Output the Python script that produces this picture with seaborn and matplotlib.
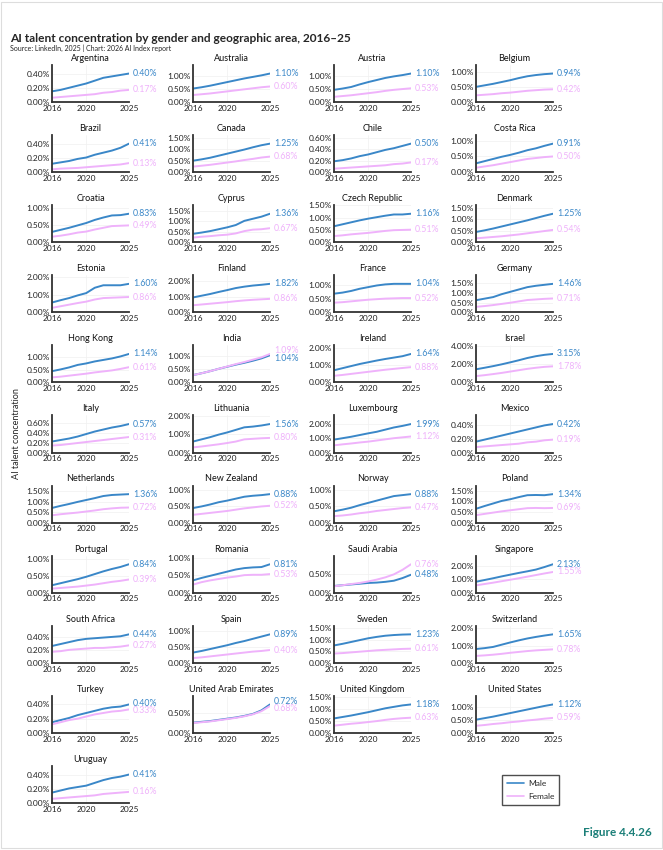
import numpy as np
import pandas as pd
import matplotlib.pyplot as plt
import seaborn as sns
from matplotlib.lines import Line2D
from matplotlib.patches import Rectangle

# AI talent concentration (%) by gender, 2016-2025
years = list(range(2016, 2026))

countries = ["Argentina", "Australia", "Austria", "Belgium",
             "Brazil", "Canada", "Chile", "Costa Rica",
             "Croatia", "Cyprus", "Czech Republic", "Denmark",
             "Estonia", "Finland", "France", "Germany",
             "Hong Kong", "India", "Ireland", "Israel",
             "Italy", "Lithuania", "Luxembourg", "Mexico",
             "Netherlands", "New Zealand", "Norway", "Poland",
             "Portugal", "Romania", "Saudi Arabia", "Singapore",
             "South Africa", "Spain", "Sweden", "Switzerland",
             "Turkey", "United Arab Emirates", "United Kingdom", "United States",
             "Uruguay"]

male = [
    [0.15, 0.17, 0.20, 0.23, 0.26, 0.30, 0.34, 0.36, 0.38, 0.40],
    [0.52, 0.57, 0.63, 0.70, 0.77, 0.84, 0.91, 0.97, 1.03, 1.10],
    [0.47, 0.52, 0.58, 0.68, 0.77, 0.85, 0.93, 0.99, 1.04, 1.10],
    [0.50, 0.55, 0.60, 0.66, 0.72, 0.79, 0.85, 0.89, 0.92, 0.94],
    [0.12, 0.14, 0.16, 0.19, 0.21, 0.25, 0.28, 0.31, 0.35, 0.41],
    [0.50, 0.56, 0.63, 0.72, 0.81, 0.90, 0.99, 1.09, 1.18, 1.25],
    [0.19, 0.21, 0.24, 0.28, 0.31, 0.35, 0.39, 0.42, 0.46, 0.50],
    [0.28, 0.35, 0.42, 0.49, 0.55, 0.62, 0.70, 0.76, 0.84, 0.91],
    [0.30, 0.36, 0.42, 0.49, 0.56, 0.65, 0.72, 0.78, 0.79, 0.83],
    [0.40, 0.46, 0.53, 0.62, 0.71, 0.82, 1.02, 1.12, 1.22, 1.36],
    [0.65, 0.73, 0.81, 0.89, 0.96, 1.02, 1.08, 1.13, 1.13, 1.16],
    [0.45, 0.52, 0.60, 0.69, 0.78, 0.87, 0.96, 1.06, 1.16, 1.25],
    [0.55, 0.68, 0.80, 0.95, 1.08, 1.38, 1.52, 1.52, 1.52, 1.60],
    [0.95, 1.06, 1.17, 1.30, 1.42, 1.55, 1.64, 1.71, 1.76, 1.82],
    [0.68, 0.72, 0.78, 0.86, 0.92, 0.98, 1.02, 1.04, 1.04, 1.04],
    [0.62, 0.70, 0.78, 0.93, 1.05, 1.17, 1.29, 1.36, 1.41, 1.46],
    [0.45, 0.52, 0.60, 0.70, 0.76, 0.84, 0.90, 0.96, 1.04, 1.14],
    [0.28, 0.35, 0.43, 0.52, 0.60, 0.68, 0.75, 0.83, 0.92, 1.04],
    [0.70, 0.82, 0.94, 1.06, 1.16, 1.26, 1.35, 1.43, 1.51, 1.64],
    [1.45, 1.62, 1.80, 2.00, 2.22, 2.45, 2.70, 2.90, 3.05, 3.15],
    [0.22, 0.25, 0.28, 0.32, 0.37, 0.42, 0.46, 0.50, 0.53, 0.57],
    [0.60, 0.72, 0.84, 0.98, 1.10, 1.24, 1.38, 1.42, 1.48, 1.56],
    [0.90, 1.00, 1.10, 1.22, 1.34, 1.45, 1.60, 1.75, 1.86, 1.99],
    [0.16, 0.19, 0.22, 0.25, 0.28, 0.31, 0.34, 0.37, 0.40, 0.42],
    [0.70, 0.80, 0.89, 0.99, 1.08, 1.17, 1.27, 1.32, 1.34, 1.36],
    [0.45, 0.50, 0.56, 0.63, 0.68, 0.74, 0.80, 0.83, 0.85, 0.88],
    [0.35, 0.40, 0.46, 0.54, 0.61, 0.68, 0.75, 0.82, 0.85, 0.88],
    [0.65, 0.78, 0.90, 1.02, 1.10, 1.20, 1.29, 1.30, 1.29, 1.34],
    [0.22, 0.28, 0.34, 0.40, 0.47, 0.55, 0.63, 0.70, 0.76, 0.84],
    [0.35, 0.42, 0.48, 0.54, 0.60, 0.66, 0.70, 0.72, 0.73, 0.81],
    [0.18, 0.20, 0.22, 0.24, 0.26, 0.27, 0.29, 0.32, 0.39, 0.48],
    [0.82, 0.95, 1.08, 1.22, 1.35, 1.48, 1.60, 1.73, 1.92, 2.13],
    [0.26, 0.29, 0.32, 0.35, 0.37, 0.38, 0.39, 0.40, 0.41, 0.44],
    [0.32, 0.37, 0.43, 0.49, 0.55, 0.62, 0.68, 0.75, 0.82, 0.89],
    [0.75, 0.82, 0.90, 0.98, 1.06, 1.12, 1.17, 1.20, 1.22, 1.23],
    [0.80, 0.85, 0.92, 1.05, 1.18, 1.30, 1.41, 1.50, 1.58, 1.65],
    [0.15, 0.18, 0.21, 0.25, 0.28, 0.31, 0.34, 0.36, 0.37, 0.40],
    [0.26, 0.28, 0.30, 0.33, 0.36, 0.39, 0.43, 0.48, 0.57, 0.72],
    [0.60, 0.66, 0.72, 0.79, 0.86, 0.94, 1.02, 1.08, 1.14, 1.18],
    [0.52, 0.58, 0.64, 0.71, 0.78, 0.85, 0.92, 0.99, 1.06, 1.12],
    [0.15, 0.18, 0.21, 0.23, 0.25, 0.29, 0.33, 0.36, 0.38, 0.41],
]

female = [
    [0.06, 0.07, 0.08, 0.09, 0.10, 0.11, 0.13, 0.14, 0.16, 0.17],
    [0.27, 0.30, 0.33, 0.37, 0.41, 0.45, 0.49, 0.53, 0.57, 0.60],
    [0.20, 0.23, 0.26, 0.30, 0.34, 0.38, 0.43, 0.47, 0.50, 0.53],
    [0.22, 0.24, 0.26, 0.29, 0.31, 0.34, 0.37, 0.39, 0.41, 0.42],
    [0.04, 0.05, 0.055, 0.06, 0.07, 0.08, 0.09, 0.10, 0.11, 0.13],
    [0.24, 0.28, 0.32, 0.37, 0.42, 0.47, 0.53, 0.58, 0.64, 0.68],
    [0.06, 0.07, 0.08, 0.09, 0.10, 0.11, 0.12, 0.14, 0.15, 0.17],
    [0.14, 0.18, 0.22, 0.27, 0.32, 0.37, 0.42, 0.45, 0.48, 0.50],
    [0.16, 0.19, 0.23, 0.28, 0.31, 0.37, 0.42, 0.47, 0.48, 0.49],
    [0.22, 0.26, 0.29, 0.33, 0.36, 0.42, 0.53, 0.60, 0.62, 0.67],
    [0.25, 0.28, 0.32, 0.35, 0.38, 0.42, 0.46, 0.49, 0.50, 0.51],
    [0.17, 0.20, 0.23, 0.26, 0.30, 0.34, 0.39, 0.44, 0.49, 0.54],
    [0.25, 0.34, 0.43, 0.52, 0.60, 0.72, 0.80, 0.82, 0.84, 0.86],
    [0.45, 0.50, 0.55, 0.60, 0.65, 0.71, 0.76, 0.80, 0.83, 0.86],
    [0.35, 0.37, 0.40, 0.43, 0.46, 0.48, 0.50, 0.51, 0.52, 0.52],
    [0.28, 0.32, 0.37, 0.43, 0.49, 0.56, 0.63, 0.66, 0.69, 0.71],
    [0.20, 0.23, 0.27, 0.31, 0.35, 0.40, 0.44, 0.48, 0.54, 0.61],
    [0.28, 0.35, 0.43, 0.52, 0.61, 0.70, 0.78, 0.87, 0.96, 1.09],
    [0.38, 0.43, 0.49, 0.55, 0.61, 0.67, 0.73, 0.78, 0.83, 0.88],
    [0.70, 0.80, 0.92, 1.05, 1.20, 1.35, 1.50, 1.62, 1.72, 1.78],
    [0.14, 0.15, 0.17, 0.19, 0.21, 0.23, 0.25, 0.27, 0.29, 0.31],
    [0.28, 0.33, 0.39, 0.45, 0.52, 0.60, 0.72, 0.75, 0.78, 0.80],
    [0.50, 0.57, 0.63, 0.70, 0.76, 0.84, 0.92, 1.00, 1.06, 1.12],
    [0.08, 0.09, 0.10, 0.11, 0.12, 0.13, 0.15, 0.16, 0.18, 0.19],
    [0.35, 0.40, 0.44, 0.48, 0.53, 0.58, 0.64, 0.68, 0.71, 0.72],
    [0.24, 0.27, 0.30, 0.33, 0.36, 0.40, 0.44, 0.47, 0.50, 0.52],
    [0.20, 0.22, 0.25, 0.29, 0.32, 0.36, 0.39, 0.42, 0.45, 0.47],
    [0.35, 0.41, 0.47, 0.53, 0.58, 0.63, 0.68, 0.69, 0.68, 0.69],
    [0.12, 0.14, 0.16, 0.18, 0.21, 0.24, 0.28, 0.32, 0.35, 0.39],
    [0.23, 0.30, 0.35, 0.39, 0.43, 0.46, 0.50, 0.51, 0.51, 0.53],
    [0.17, 0.20, 0.23, 0.26, 0.30, 0.35, 0.41, 0.49, 0.61, 0.76],
    [0.55, 0.65, 0.75, 0.86, 0.97, 1.08, 1.20, 1.32, 1.44, 1.55],
    [0.17, 0.18, 0.20, 0.21, 0.22, 0.23, 0.23, 0.24, 0.25, 0.27],
    [0.15, 0.17, 0.20, 0.23, 0.26, 0.29, 0.32, 0.35, 0.37, 0.40],
    [0.40, 0.42, 0.45, 0.48, 0.51, 0.54, 0.56, 0.58, 0.60, 0.61],
    [0.40, 0.43, 0.47, 0.52, 0.58, 0.63, 0.68, 0.72, 0.75, 0.78],
    [0.12, 0.15, 0.18, 0.20, 0.23, 0.26, 0.28, 0.30, 0.31, 0.33],
    [0.25, 0.27, 0.29, 0.32, 0.35, 0.38, 0.42, 0.47, 0.55, 0.68],
    [0.30, 0.34, 0.38, 0.41, 0.45, 0.49, 0.54, 0.58, 0.61, 0.63],
    [0.28, 0.31, 0.35, 0.38, 0.42, 0.45, 0.49, 0.52, 0.56, 0.59],
    [0.06, 0.07, 0.08, 0.09, 0.10, 0.11, 0.13, 0.14, 0.15, 0.16],
]

sns.set_style("white")
plt.rcParams["font.family"] = ["Lato", "DejaVu Sans"]

# long table for seaborn
rows = []
for c, m, f in zip(countries, male, female):
    for y, mv, fv in zip(years, m, f):
        rows.append((c, y, "Male", mv))
        rows.append((c, y, "Female", fv))
df = pd.DataFrame(rows, columns=["country", "year", "gender", "value"])

colors = {"Male": "#3a87c8", "Female": "#efb2fb"}

W, H = 663, 850
fig = plt.figure(figsize=(W / 100, H / 100), dpi=100)
fig.patches.append(Rectangle((0.002, 0.002), 0.996, 0.996, transform=fig.transFigure,
                             fill=False, edgecolor="#dddddd", linewidth=0.8))

col_left = [52, 193, 334, 476]
ax_w, ax_h = 77, 37
row_top0, row_pitch = 65, 70.1


def nice_step(top):
    for s in [0.1, 0.2, 0.5, 1, 2, 5]:
        if top / s <= 4:
            return s
    return 10


for i, c in enumerate(countries):
    r, k = divmod(i, 4)
    top_px = row_top0 + r * row_pitch
    ax = fig.add_axes([col_left[k] / W, 1 - (top_px + ax_h) / H, ax_w / W, ax_h / H])
    sub = df[df.country == c]
    sns.lineplot(data=sub, x="year", y="value", hue="gender", palette=colors,
                 hue_order=["Male", "Female"], linewidth=1.4, legend=False, ax=ax)

    vmax = max(max(male[i]), max(female[i]))
    ytop = vmax * 1.3
    step = nice_step(ytop)
    ticks = np.arange(0, ytop + 1e-9, step)
    ax.set_ylim(0, ytop)
    ax.set_xlim(2016, 2025)
    ax.set_yticks(ticks)
    ax.set_yticklabels([f"{v:.2f}%" for v in ticks])
    ax.set_xticks([2016, 2020, 2025])
    ax.set_xticklabels(["2016", "2020", "2025"])
    ax.tick_params(axis="y", length=0, labelsize=6, pad=1.5, colors="#222222")
    ax.tick_params(axis="x", length=0, labelsize=6, pad=2, colors="#222222")
    ax.set_xlabel("")
    ax.set_ylabel("")
    ax.grid(True, color="#f0f0f0", linewidth=0.5)
    for s in ["top", "right"]:
        ax.spines[s].set_visible(False)
    for s in ["left", "bottom"]:
        ax.spines[s].set_color("#333333")
        ax.spines[s].set_linewidth(1.3)
    ax.set_title(c, fontsize=6.5, pad=3, color="#111111")

    # end labels, pushed apart if they would overlap
    ym = male[i][-1] / ytop
    yf = female[i][-1] / ytop
    sep = 7.5 / ax_h
    if abs(ym - yf) < sep:
        mid = (ym + yf) / 2
        if ym >= yf:
            ym, yf = mid + sep / 2, mid - sep / 2
        else:
            ym, yf = mid - sep / 2, mid + sep / 2
    ax.text(1.05, ym, f"{male[i][-1]:.2f}%", transform=ax.transAxes, va="center",
            ha="left", fontsize=6.3, color=colors["Male"])
    ax.text(1.05, yf, f"{female[i][-1]:.2f}%", transform=ax.transAxes, va="center",
            ha="left", fontsize=6.3, color=colors["Female"])

handles = [Line2D([], [], color=colors["Male"], lw=1.2),
           Line2D([], [], color=colors["Female"], lw=1.2)]
leg = fig.legend(handles, ["Male", "Female"], loc="upper left",
                 bbox_to_anchor=(498 / W, 1 - 771 / H), fontsize=6, frameon=True,
                 fancybox=False, edgecolor="#222222", handlelength=2.0,
                 handletextpad=0.5, borderpad=0.6, labelspacing=0.7)
leg.get_frame().set_linewidth(1.0)

fig.text(10 / W, 1 - 38 / H, "AI talent concentration by gender and geographic area, 2016–25",
         fontsize=8.6, fontweight="bold", va="center", ha="left")
fig.text(10 / W, 1 - 48.5 / H, "Source: LinkedIn, 2025 | Chart: 2026 AI Index report",
         fontsize=5.0, va="center", ha="left")
fig.text(17 / W, 1 - 434 / H, "AI talent concentration", rotation=90, fontsize=6.5,
         va="center", ha="center")
fig.text(652 / W, 1 - 832 / H, "Figure 4.4.26", fontsize=8.5, fontweight="bold",
         color="#1b7f78", va="center", ha="right")

fig.savefig("out.png", dpi=100)
